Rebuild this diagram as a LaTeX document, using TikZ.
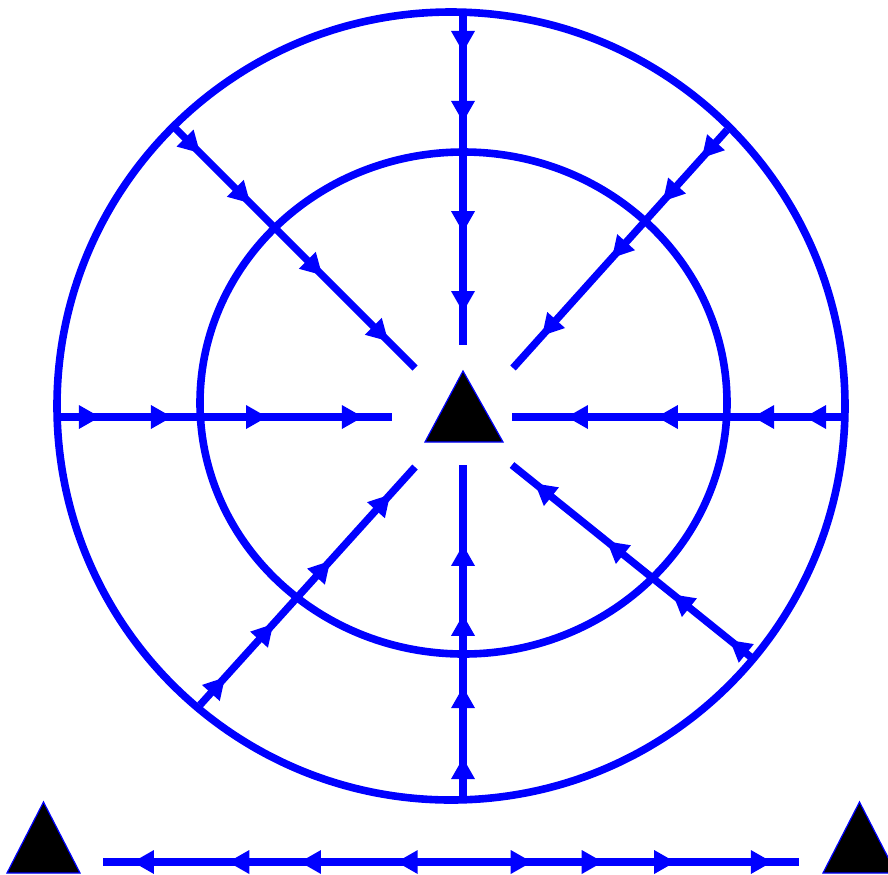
\documentclass[tikz,border=0pt]{standalone}
\begin{document}
\begin{tikzpicture}[x=0.5pt,y=-0.5pt,
  flow/.style={blue, line width=3.7pt},
  ring/.style={blue, line width=3.8pt},
  ah/.pic={\fill[blue] (0,0) -- (-21,12) -- (-21,-12) -- cycle;},
  ahp/.style={pos=#1, sloped, allow upside down},
  tri/.style={fill=black, draw=blue, line width=0.6pt, line join=miter}]
\useasboundingbox (0,0) rectangle (888,874);
% rings
\coordinate (O) at (451,406);
\coordinate (I) at (463.5,403);
\draw[ring] (O) circle[radius=394];
\draw[ring] (I) ellipse[x radius=263.5, y radius=251];
% radial line end points
\coordinate (T1) at (463,12);   \coordinate (T2) at (463,345);
\coordinate (B1) at (463,798);  \coordinate (B2) at (463,465);
\coordinate (L1) at (57,417);   \coordinate (L2) at (392,417);
\coordinate (R1) at (845,417);  \coordinate (R2) at (512,417);
\coordinate (UL1) at (175,128); \coordinate (UL2) at (415,368);
\coordinate (UR1) at (727,130); \coordinate (UR2) at (513,368);
\coordinate (LL1) at (200,705); \coordinate (LL2) at (415,467);
\coordinate (LR1) at (752,658); \coordinate (LR2) at (512,465);
\coordinate (BL) at (103,862);  \coordinate (BR) at (799,862);
% lines
\draw[flow] (T1) -- (T2);
\draw[flow] (B1) -- (B2);
\draw[flow] (L1) -- (L2);
\draw[flow] (R1) -- (R2);
\draw[flow] (UL1) -- (UL2);
\draw[flow] (UR1) -- (UR2);
\draw[flow] (LL1) -- (LL2);
\draw[flow] (LR1) -- (LR2);
\draw[flow] (BL) -- (BR);
% arrowheads
\path (T1) -- (T2) pic[ahp=0.120]{ah} pic[ahp=0.330]{ah} pic[ahp=0.661]{ah} pic[ahp=0.901]{ah};
\path (B1) -- (B2) pic[ahp=0.120]{ah} pic[ahp=0.333]{ah} pic[ahp=0.550]{ah} pic[ahp=0.760]{ah};
\path (L1) -- (L2) pic[ahp=0.128]{ah} pic[ahp=0.343]{ah} pic[ahp=0.627]{ah} pic[ahp=0.913]{ah};
\path (R1) -- (R2) pic[ahp=0.120]{ah} pic[ahp=0.276]{ah} pic[ahp=0.565]{ah} pic[ahp=0.835]{ah};
\path (UL1) -- (UL2) pic[ahp=0.104]{ah} pic[ahp=0.313]{ah} pic[ahp=0.613]{ah} pic[ahp=0.888]{ah};
\path (UR1) -- (UR2) pic[ahp=0.117]{ah} pic[ahp=0.299]{ah} pic[ahp=0.537]{ah} pic[ahp=0.864]{ah};
\path (LL1) -- (LL2) pic[ahp=0.116]{ah} pic[ahp=0.340]{ah} pic[ahp=0.605]{ah} pic[ahp=0.884]{ah};
\path (LR1) -- (LR2) pic[ahp=0.092]{ah} pic[ahp=0.329]{ah} pic[ahp=0.604]{ah} pic[ahp=0.904]{ah};
\path (BR) -- (BL) pic[ahp=0.578]{ah} pic[ahp=0.717]{ah} pic[ahp=0.820]{ah} pic[ahp=0.957]{ah};
\path (BL) -- (BR) pic[ahp=0.616]{ah} pic[ahp=0.718]{ah} pic[ahp=0.822]{ah} pic[ahp=0.961]{ah};
% triangles
\draw[tri] (463,371) -- (503,442) -- (425,442) -- cycle;
\draw[tri] (43.5,802) -- (80,873) -- (7,873) -- cycle;
\draw[tri] (859.5,802) -- (896,873) -- (823,873) -- cycle;
\end{tikzpicture}
\end{document}
